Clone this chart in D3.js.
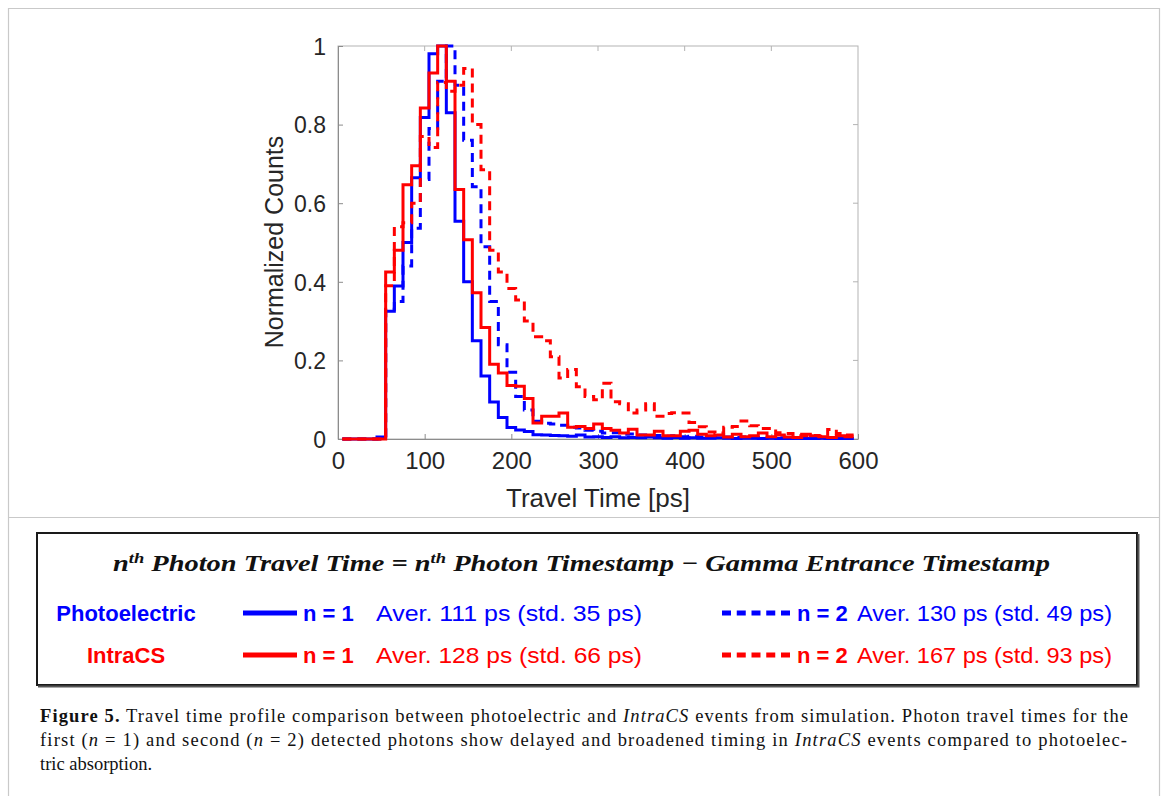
<!DOCTYPE html>
<html>
<head>
<meta charset="utf-8">
<script src="https://cdn.jsdelivr.net/npm/d3@7"></script>
<style>
  html, body { margin: 0; padding: 0; background: #fff; }
  svg { display: block; }
</style>
</head>
<body>
<svg id="fig" width="1167" height="796"></svg>
<script>
// Histogram bin edges (ps), 10 ps wide bins
const binEdgesPs = [5, 15, 25, 35, 45, 55, 65, 75, 85, 95, 105, 115, 125, 135, 145, 155, 165, 175, 185, 195,
  205, 215, 225, 235, 245, 255, 265, 275, 285, 295, 305, 315, 325, 335, 345, 355, 365, 375, 385, 395,
  405, 415, 425, 435, 445, 455, 465, 475, 485, 495, 505, 515, 525, 535, 545, 555, 565, 575, 585, 595];

// Normalized counts per bin
const photoelectricN1 = [0, 0, 0, 0, 0.005,
  0.325, 0.389, 0.50, 0.665, 0.818, 0.98, 1.0, 0.83, 0.554, 0.40,
  0.25, 0.16, 0.094, 0.055, 0.029, 0.023, 0.019, 0.011, 0.01, 0.009,
  0.008, 0.007, 0.01, 0.005, 0.006, 0.004, 0.006, 0.003, 0.004, 0.003,
  0.005, 0.003, 0.002, 0.004, 0.002, 0.003, 0.002, 0.002, 0.003, 0.002,
  0.001, 0.002, 0.002, 0.001, 0.002, 0.001, 0.001, 0.002, 0.001, 0.001,
  0.002, 0.001, 0.001, 0.001];
const photoelectricN2 = [0, 0, 0, 0, 0,
  0.33, 0.35, 0.44, 0.536, 0.66, 0.79, 0.91, 1.0, 0.9, 0.76,
  0.642, 0.489, 0.35, 0.24, 0.17, 0.108, 0.074, 0.045, 0.04, 0.038,
  0.035, 0.03, 0.028, 0.022, 0.02, 0.015, 0.016, 0.012, 0.013, 0.01,
  0.008, 0.009, 0.007, 0.008, 0.006, 0.007, 0.005, 0.006, 0.004, 0.005,
  0.004, 0.005, 0.003, 0.004, 0.003, 0.003, 0.004, 0.002, 0.003, 0.003,
  0.002, 0.003, 0.002, 0.002];
const intraCSN1 = [0, 0, 0, 0, 0,
  0.425, 0.48, 0.647, 0.695, 0.842, 0.931, 1.0, 0.91, 0.635, 0.507,
  0.372, 0.284, 0.19, 0.168, 0.136, 0.134, 0.103, 0.041, 0.058, 0.058,
  0.066, 0.03, 0.032, 0.027, 0.038, 0.027, 0.022, 0.015, 0.025, 0.01,
  0.01, 0.02, 0.008, 0.008, 0.02, 0.022, 0.012, 0.008, 0.01, 0.005,
  0.012, 0.006, 0.008, 0.015, 0.006, 0.01, 0.005, 0.004, 0.012, 0.008,
  0.006, 0.004, 0.008, 0.006];
const intraCSN2 = [0, 0, 0, 0, 0,
  0.39, 0.54, 0.55, 0.60, 0.77, 0.742, 0.907, 0.885, 0.9, 0.943,
  0.80, 0.685, 0.48, 0.425, 0.383, 0.354, 0.30, 0.26, 0.25, 0.209,
  0.155, 0.177, 0.133, 0.108, 0.10, 0.142, 0.095, 0.09, 0.066, 0.074,
  0.09, 0.058, 0.065, 0.067, 0.066, 0.042, 0.031, 0.018, 0.015, 0.03,
  0.032, 0.046, 0.034, 0.027, 0.027, 0.016, 0.014, 0.008, 0.008, 0.009,
  0.007, 0.024, 0.014, 0.01];

// Axis ticks
const xTickValues = [0, 100, 200, 300, 400, 500, 600];
const yTickValues = [0, 0.2, 0.4, 0.6, 0.8, 1];
const yTickLabels = ["0", "0.2", "0.4", "0.6", "0.8", "1"];

// Legend content
const legendGroups = ["Photoelectric", "IntraCS"];
const legendN1Stats = ["Aver. 111 ps (std. 35 ps)", "Aver. 128 ps (std. 66 ps)"];
const legendN2Stats = ["Aver. 130 ps (std. 49 ps)", "Aver. 167 ps (std. 93 ps)"];

const BLUE = "#0000ff", RED = "#ff0000", AXIS = "#262626";
const sans = "'Liberation Sans', Arial, sans-serif";
const serif = "'Liberation Serif', 'Times New Roman', serif";

const svg = d3.select("#fig");

// Page frame
const frame = svg.append("g").attr("fill", "none").attr("stroke", "#c9c9c9").attr("stroke-width", 1.2);
frame.append("path").attr("d", "M8.5,796 V8.5 H1159.5 V796");
frame.append("line").attr("x1", 8.5).attr("x2", 1159.5).attr("y1", 517.5).attr("y2", 517.5);

// Plot area
const x = d3.scaleLinear().domain([0, 600]).range([338, 858]);
const y = d3.scaleLinear().domain([0, 1]).range([439, 46]);

svg.append("rect").attr("x", x(0)).attr("y", y(1))
  .attr("width", x(600) - x(0)).attr("height", y(0) - y(1)).attr("fill", "#fff");

svg.append("clipPath").attr("id", "plotClip").append("rect")
  .attr("x", x(0)).attr("y", y(1) - 3).attr("width", x(600) - x(0)).attr("height", y(0) - y(1) + 6);

// Box and inward ticks
const axisG = svg.append("g");
axisG.append("rect").attr("x", x(0)).attr("y", y(1))
  .attr("width", x(600) - x(0)).attr("height", y(0) - y(1))
  .attr("fill", "none").attr("stroke", "#b3b3b3").attr("stroke-width", 1);

const xAxis = d3.axisBottom(x).tickValues(xTickValues).tickSizeInner(-5).tickSizeOuter(0).tickPadding(13)
  .tickFormat(d3.format("d"));
const gx = axisG.append("g").attr("transform", `translate(0,${y(0)})`).call(xAxis);
gx.select(".domain").attr("stroke", "#8c8c8c");
gx.selectAll(".tick line").attr("stroke", "#8c8c8c");
gx.selectAll(".tick text").attr("font-family", sans).attr("font-size", 24).attr("fill", AXIS).attr("dy", "0.71em");

const yAxis = d3.axisLeft(y).tickValues(yTickValues).tickSizeInner(-5).tickSizeOuter(0).tickPadding(12)
  .tickFormat((d, i) => yTickLabels[i]);
const gy = axisG.append("g").attr("transform", `translate(${x(0)},0)`).call(yAxis);
gy.select(".domain").attr("stroke", "#8c8c8c");
gy.selectAll(".tick line").attr("stroke", "#8c8c8c");
gy.selectAll(".tick text").attr("font-family", sans).attr("font-size", 23).attr("fill", AXIS).attr("dy", "0.36em");

// Mirror ticks on top and right
axisG.selectAll(".xt").data(xTickValues.slice(1, -1)).join("line")
  .attr("x1", d => x(d)).attr("x2", d => x(d)).attr("y1", y(1)).attr("y2", y(1) + 5).attr("stroke", "#b3b3b3");
axisG.selectAll(".yt").data(yTickValues.slice(1, -1)).join("line")
  .attr("x1", x(600)).attr("x2", x(600) - 5).attr("y1", d => y(d)).attr("y2", d => y(d)).attr("stroke", "#b3b3b3");

// Axis titles
svg.append("text").attr("x", 598).attr("y", 507).attr("text-anchor", "middle")
  .attr("font-family", sans).attr("font-size", 26).attr("fill", AXIS).text("Travel Time [ps]");
svg.append("text").attr("transform", "translate(283,242) rotate(-90)").attr("text-anchor", "middle")
  .attr("font-family", sans).attr("font-size", 25).attr("fill", AXIS).text("Normalized Counts");

// Step histograms
const stairs = d3.line().x(d => x(d[0])).y(d => y(d[1])).curve(d3.curveStepAfter);
function stepPoints(values) {
  const pts = values.map((v, i) => [binEdgesPs[i], v]);
  pts.push([binEdgesPs[values.length], values[values.length - 1]]);
  return pts;
}
const seriesList = [
  { values: photoelectricN1, color: BLUE, dash: null },
  { values: photoelectricN2, color: BLUE, dash: "9,6" },
  { values: intraCSN1, color: RED, dash: null },
  { values: intraCSN2, color: RED, dash: "9,6" }
];
const linesG = svg.append("g").attr("clip-path", "url(#plotClip)");
linesG.selectAll("path").data(seriesList).join("path")
  .attr("d", d => stairs(stepPoints(d.values)))
  .attr("fill", "none")
  .attr("stroke", d => d.color)
  .attr("stroke-width", 3)
  .attr("stroke-linejoin", "miter")
  .attr("stroke-dasharray", d => d.dash);

// Legend box
const lg = svg.append("g");
lg.append("rect").attr("x", 37).attr("y", 533).attr("width", 1100).attr("height", 152)
  .attr("fill", "#fff").attr("stroke", "#1a1a1a").attr("stroke-width", 2);
lg.append("path").attr("d", "M38,686.5 H1138.5 V534").attr("fill", "none").attr("stroke", "#555").attr("stroke-width", 2);

// Legend equation title
const eq = lg.append("text").attr("x", 113).attr("y", 571)
  .attr("font-family", serif).attr("font-weight", "bold").attr("font-style", "italic")
  .attr("font-size", 23).attr("fill", "#111")
  .attr("textLength", 937).attr("lengthAdjust", "spacingAndGlyphs");
eq.append("tspan").text("n");
eq.append("tspan").attr("dy", -8).attr("font-size", 15).text("th");
eq.append("tspan").attr("dy", 8).text(" Photon Travel Time = n");
eq.append("tspan").attr("dy", -8).attr("font-size", 15).text("th");
eq.append("tspan").attr("dy", 8).text(" Photon Timestamp \u2212 Gamma Entrance Timestamp");

// Legend rows
const rowY = [613, 655];
const rowColor = [BLUE, RED];
legendGroups.forEach((name, i) => {
  const cy = rowY[i], c = rowColor[i];
  lg.append("text").attr("x", 126).attr("y", cy + 8).attr("text-anchor", "middle")
    .attr("font-family", sans).attr("font-weight", "bold").attr("font-size", 22).attr("fill", c).text(name);
  lg.append("line").attr("x1", 243).attr("x2", 297).attr("y1", cy).attr("y2", cy)
    .attr("stroke", c).attr("stroke-width", 5);
  lg.append("text").attr("x", 303).attr("y", cy + 8)
    .attr("font-family", sans).attr("font-weight", "bold").attr("font-size", 22).attr("fill", c).text("n = 1");
  lg.append("text").attr("x", 376).attr("y", cy + 8).attr("textLength", 266).attr("lengthAdjust", "spacingAndGlyphs")
    .attr("font-family", sans).attr("font-size", 22).attr("fill", c).text(legendN1Stats[i]);
  lg.append("line").attr("x1", 722).attr("x2", 790).attr("y1", cy).attr("y2", cy)
    .attr("stroke", c).attr("stroke-width", 5).attr("stroke-dasharray", "9,5.75");
  lg.append("text").attr("x", 797).attr("y", cy + 8)
    .attr("font-family", sans).attr("font-weight", "bold").attr("font-size", 22).attr("fill", c).text("n = 2");
  lg.append("text").attr("x", 857).attr("y", cy + 8).attr("textLength", 255).attr("lengthAdjust", "spacingAndGlyphs")
    .attr("font-family", sans).attr("font-size", 22).attr("fill", c).text(legendN2Stats[i]);
});

// Caption
const cap = svg.append("g").attr("font-family", serif).attr("font-size", 18.5).attr("fill", "#111");
const l1 = cap.append("text").attr("x", 40).attr("y", 722).attr("textLength", 1088).attr("lengthAdjust", "spacing");
l1.append("tspan").attr("font-weight", "bold").text("Figure 5.");
l1.append("tspan").text(" Travel time profile comparison between photoelectric and ");
l1.append("tspan").attr("font-style", "italic").text("IntraCS");
l1.append("tspan").text(" events from simulation. Photon travel times for the");
const l2 = cap.append("text").attr("x", 40).attr("y", 746).attr("textLength", 1087).attr("lengthAdjust", "spacing");
l2.append("tspan").text("first (");
l2.append("tspan").attr("font-style", "italic").text("n");
l2.append("tspan").text(" = 1) and second (");
l2.append("tspan").attr("font-style", "italic").text("n");
l2.append("tspan").text(" = 2) detected photons show delayed and broadened timing in ");
l2.append("tspan").attr("font-style", "italic").text("IntraCS");
l2.append("tspan").text(" events compared to photoelec-");
cap.append("text").attr("x", 40).attr("y", 770).text("tric absorption.");
</script>
</body>
</html>
